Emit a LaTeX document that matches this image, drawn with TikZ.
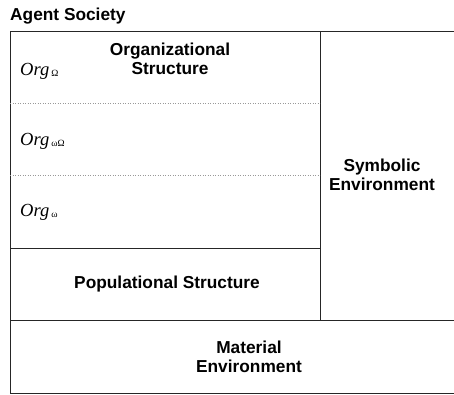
\documentclass[tikz,border=0pt]{standalone}
\usepackage{fontspec}
\setmainfont{Liberation Sans}
\newfontfamily\orgfont{Liberation Serif}
\newcommand{\orgsub}[1]{\raisebox{-1.5pt}{\fontsize{9.5}{10}\selectfont\upshape\kern2pt#1}}
\begin{document}
\begin{tikzpicture}[x=1pt,y=-1pt,
  lbl/.style={font=\fontsize{17.3}{19.5}\selectfont\bfseries, align=center, inner sep=0pt},
  org/.style={font=\orgfont\fontsize{18.5}{20}\selectfont\itshape, anchor=base west, inner sep=0pt},
  frame/.style={draw=black!85, line width=0.9pt},
  sep/.style={draw=black!40, dotted, line width=0.5pt}]
\useasboundingbox (0,0) rectangle (454,394);
\node[lbl, anchor=base west] (title) at (10,20.5) {Agent Society};
% frame
\draw[frame] (454,31) -- (10,31) -- (10,393) -- (454,393);
\draw[frame] (320,31) -- (320,320);
\draw[frame] (10,248) -- (320,248);
\draw[frame] (10,320) -- (454,320);
\draw[sep] (10,103) -- (320,103);
\draw[sep] (10,175) -- (320,175);
% labels
\node[lbl] (orgstruct) at (170,59) {Organizational\\Structure};
\node[org] (o1) at (20,75) {Org\orgsub{Ω}};
\node[org] (o2) at (20,145) {Org\orgsub{ωΩ}};
\node[org] (o3) at (20,216) {Org\orgsub{ω}};
\node[lbl] (symb) at (382,175) {Symbolic\\Environment};
\node[lbl] (pop) at (167,284) {Populational Structure};
\node[lbl] (mat) at (249,357) {Material\\Environment};
\end{tikzpicture}
\end{document}
